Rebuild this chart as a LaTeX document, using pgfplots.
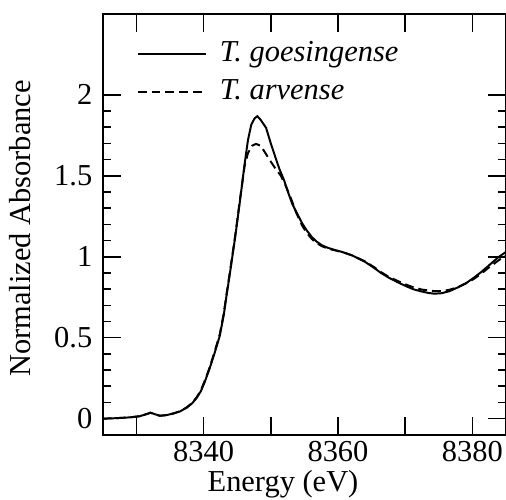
\documentclass[border=0pt]{standalone}
\usepackage{pgfplots}
\pgfplotsset{compat=1.18}
\usepackage{fontspec}
\setmainfont{Liberation Serif}
\begin{document}
\fontsize{15.4}{18}\selectfont
\begin{tikzpicture}
\begin{axis}[
  scale only axis,
  width=204pt, height=213pt,
  xmin=8325, xmax=8385, ymin=-0.1, ymax=2.5,
  xtick={8330,8340,8350,8360,8370,8380},
  xticklabels={,8340,,8360,,8380},
  ytick={0,0.5,1,1.5,2},
  yticklabels={0,0.5,1,1.5,2},
  minor y tick num=4,
  tick align=inside,
  major tick length=9pt,
  minor tick length=4pt,
  every tick/.style={black, line width=0.8pt},
  axis line style={line width=1pt},
  /pgf/number format/assume math mode=true,
  tick label style={font=\fontsize{15.4}{18}\selectfont},
  xticklabel style={yshift=2pt},
  label style={font=\fontsize{15.4}{18}\selectfont},
  xlabel={Energy (eV)},
  ylabel={Normalized Absorbance},
  xlabel style={at={(axis description cs:0.447,-0.134)}, anchor=base},
  ylabel style={at={(axis description cs:-0.205,0.49)}, anchor=center},
  legend cell align=left,
  legend style={draw=none, fill=none, at={(axis cs:8330,2.136)}, anchor=west,
    inner xsep=0pt, inner ysep=0pt, row sep=6.5pt, column sep=0pt,
    nodes={inner xsep=3pt, inner ysep=0pt},
    font=\fontsize{15.4}{18}\selectfont},
  legend image code/.code={\draw[#1] (-3pt,0pt) -- (31.5pt,0pt);},
  legend style={/tikz/every odd column/.append style={column sep=3.5pt}},
]
\addplot[black, line width=1pt] coordinates {
(8325,0.000) (8327,0.003) (8329,0.008) (8330.5,0.015) (8331.5,0.028) (8332.1,0.037)
(8332.8,0.027) (8333.5,0.018) (8334.5,0.022) (8335.5,0.032) (8336.5,0.045) (8337.5,0.068)
(8338.3,0.095) (8339,0.130) (8339.6,0.170) (8340.2,0.230) (8340.9,0.310) (8341.6,0.400)
(8342.4,0.510) (8343,0.640) (8343.4,0.755) (8344,0.920) (8344.7,1.120) (8345.4,1.340)
(8346.1,1.571) (8346.6,1.720) (8347.1,1.816) (8347.6,1.855) (8348.0,1.868) (8348.5,1.845)
(8349.3,1.796) (8350,1.700) (8350.7,1.612) (8351.3,1.540) (8352.0,1.470) (8352.6,1.395)
(8353.2,1.326) (8354,1.260) (8354.7,1.204) (8355.4,1.160) (8356.1,1.122) (8356.8,1.094)
(8357.6,1.071) (8358.5,1.055) (8359.5,1.042) (8360.5,1.031) (8362,1.010) (8363,0.990)
(8364,0.969) (8365.4,0.930) (8366.4,0.900) (8367.5,0.872) (8368.9,0.842) (8370.3,0.815)
(8371.3,0.798) (8372.5,0.785) (8373.5,0.776) (8374.3,0.772) (8375.3,0.774) (8376.5,0.786)
(8377.7,0.808) (8379,0.835) (8380.1,0.867) (8381.3,0.905) (8382.5,0.948) (8383.8,0.995)
(8385,1.030)
};
\addlegendentry{\textit{T. goesingense}}
\addplot[black, line width=1pt, dash pattern=on 4.5pt off 2.5pt] coordinates {
(8325,0.000) (8327,0.003) (8329,0.008) (8330.5,0.015) (8331.5,0.028) (8332.1,0.036)
(8332.8,0.027) (8333.5,0.018) (8334.5,0.022) (8335.5,0.032) (8336.5,0.046) (8337.5,0.070)
(8338.3,0.098) (8339,0.134) (8339.6,0.176) (8340.2,0.236) (8340.9,0.316) (8341.6,0.408)
(8342.4,0.520) (8343,0.650) (8343.4,0.765) (8344,0.930) (8344.7,1.130) (8345.4,1.350)
(8346.1,1.560) (8346.6,1.640) (8347.2,1.685) (8347.8,1.697) (8348.5,1.685) (8349.2,1.640)
(8349.8,1.600) (8350.6,1.550) (8351.5,1.500) (8352.2,1.440) (8353,1.360) (8353.8,1.270)
(8354.7,1.190) (8355.4,1.145) (8356.1,1.110) (8356.8,1.085) (8357.6,1.065) (8358.5,1.050)
(8360.5,1.030) (8362,1.010) (8364,0.972) (8365.4,0.935) (8366.4,0.905) (8367.5,0.877)
(8368.9,0.850) (8370.3,0.825) (8371.3,0.810) (8372.5,0.797) (8374.3,0.788) (8375.3,0.788)
(8376.5,0.795) (8377.7,0.810) (8379,0.835) (8380.1,0.860) (8381.3,0.895) (8382.5,0.935)
(8383.8,0.975) (8385,1.010)
};
\addlegendentry{\textit{T. arvense}}
\end{axis}
\pgfresetboundingbox
\path (current axis.south west) ++(-52pt,-32.5pt) coordinate (bbA);
\path (current axis.north east) ++(-3pt,7pt) coordinate (bbB);
\path[use as bounding box] (bbA) rectangle (bbB);
\end{tikzpicture}
\end{document}
